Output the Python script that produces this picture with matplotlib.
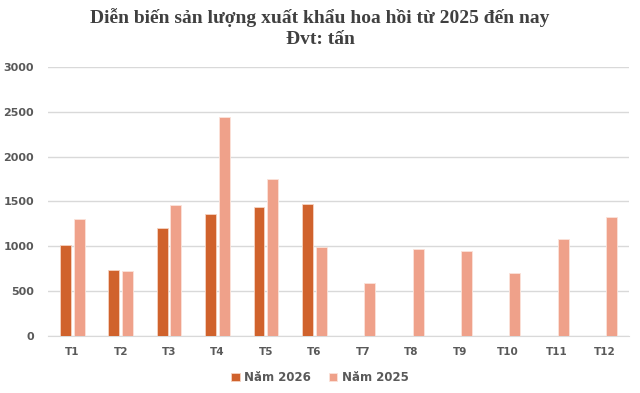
import matplotlib.pyplot as plt
import numpy as np

months = ['T1', 'T2', 'T3', 'T4', 'T5', 'T6', 'T7', 'T8', 'T9', 'T10', 'T11', 'T12']
nam_2026 = [1010, 740, 1205, 1365, 1440, 1475, 0, 0, 0, 0, 0, 0]
nam_2025 = [1305, 720, 1465, 2440, 1755, 995, 595, 975, 945, 705, 1080, 1330]

c26 = '#D0622C'
c25 = '#EFA18A'
txt = '#595959'

fig = plt.figure(figsize=(6.4, 3.93), dpi=100)
ax = fig.add_axes([0.075, 0.145, 0.908, 0.685])

x = np.arange(len(months))
w = 0.225
ax.bar(x - 0.142, nam_2026, w, color=c26, edgecolor='#F6D3C2', linewidth=0.6, label='Năm 2026', zorder=3)
ax.bar(x + 0.142, nam_2025, w, color=c25, edgecolor='#FBE3DA', linewidth=0.6, label='Năm 2025', zorder=3)

ax.set_xlim(-0.5, len(months) - 0.5)
ax.set_ylim(0, 3000)
ax.set_yticks(range(0, 3001, 500))
ax.grid(axis='y', color='#D9D9D9', linewidth=1, zorder=0)
for s in ['top', 'right', 'left']:
    ax.spines[s].set_visible(False)
ax.spines['bottom'].set_color('#D9D9D9')
ax.set_xticks(x)
ax.set_xticklabels(months)
ax.tick_params(axis='x', length=0, pad=8, labelsize=7.5, labelcolor=txt)
ax.tick_params(axis='y', length=0, pad=10, labelsize=8, labelcolor=txt)
for lab in ax.get_xticklabels() + ax.get_yticklabels():
    lab.set_fontweight('bold')

fig.text(0.5, 1 - 18 / 393, 'Diễn biến sản lượng xuất khẩu hoa hồi từ 2025 đến nay',
         ha='center', va='center', fontsize=14, fontweight='bold', color='#404040',
         family='Liberation Serif')
fig.text(0.5, 1 - 40 / 393, 'Đvt: tấn',
         ha='center', va='center', fontsize=14, fontweight='bold', color='#404040',
         family='Liberation Serif')

leg = fig.legend(loc='center', bbox_to_anchor=(0.5, 0.04), ncol=2, frameon=False,
                 fontsize=8.5, handlelength=0.7, handleheight=0.7, columnspacing=1.5,
                 handletextpad=0.4)
for t in leg.get_texts():
    t.set_color(txt)
    t.set_fontweight('bold')

plt.savefig('out.png', dpi=100)
